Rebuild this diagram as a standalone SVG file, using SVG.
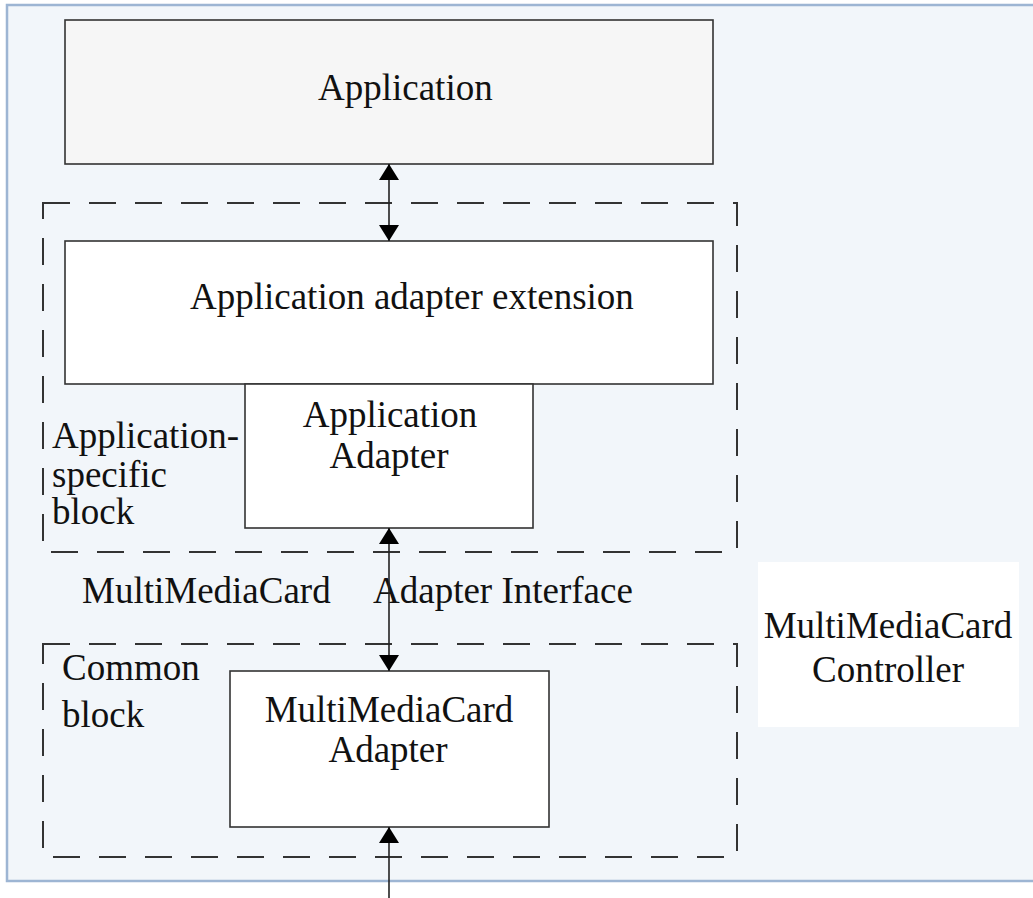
<svg xmlns="http://www.w3.org/2000/svg" width="1033" height="898" viewBox="0 0 1033 898">
<defs>
<style>
.t{font-family:"Liberation Serif","Times New Roman",serif;font-size:37px;fill:#111;}
.c{text-anchor:middle;}
.box{fill:#fff;stroke:#333;stroke-width:1.6;}
.dash{fill:none;stroke:#333;stroke-width:2;stroke-dasharray:27 19;}
.ln{stroke:#222;stroke-width:1.6;fill:none;}
</style>
<marker id="ah" viewBox="0 0 16 20" refX="16" refY="10" markerWidth="16" markerHeight="20" markerUnits="userSpaceOnUse" orient="auto-start-reverse">
<path d="M0,0 L16,10 L0,20 Z" fill="#000"/>
</marker>
</defs>
<rect width="1033" height="898" fill="#fff"/>
<g id="controller">
<rect x="7" y="5" width="1040" height="876" fill="#f2f6fa" stroke="#9db5d3" stroke-width="2.5"/>
<rect x="758" y="562" width="261" height="165" fill="#fff"/>
<text class="t c" x="888" y="638">MultiMediaCard</text>
<text class="t c" x="888" y="682">Controller</text>
</g>
<g id="app-specific-block">
<rect class="dash" x="43" y="203" width="694" height="349"/>
<text class="t" x="52" y="448">Application-</text>
<text class="t" x="52" y="487">specific</text>
<text class="t" x="52" y="524">block</text>
</g>
<g id="common-block">
<rect class="dash" x="43" y="644" width="694" height="213"/>
<text class="t" x="62" y="680">Common</text>
<text class="t" x="62" y="727">block</text>
</g>
<g id="application">
<rect class="box" x="65" y="20" width="648" height="144" fill="#f6f6f6" style="fill:#f6f6f6"/>
<text class="t" x="318" y="100">Application</text>
</g>
<g id="app-adapter-extension">
<rect class="box" x="65" y="241" width="648" height="143"/>
<text class="t" x="190" y="309">Application adapter extension</text>
</g>
<g id="app-adapter">
<rect class="box" x="245" y="384" width="288" height="144"/>
<text class="t c" x="390" y="427">Application</text>
<text class="t c" x="389" y="468">Adapter</text>
</g>
<g id="mmc-adapter">
<rect class="box" x="230" y="671" width="319" height="156"/>
<text class="t c" x="389" y="722">MultiMediaCard</text>
<text class="t c" x="388" y="762">Adapter</text>
</g>
<g id="interface-label">
<text class="t" x="82" y="603">MultiMediaCard</text>
<text class="t" x="373" y="603">Adapter Interface</text>
</g>
<g id="connectors">
<line class="ln" x1="389" y1="164" x2="389" y2="241" marker-start="url(#ah)" marker-end="url(#ah)"/>
<line class="ln" x1="389" y1="528" x2="389" y2="671" marker-start="url(#ah)" marker-end="url(#ah)"/>
<line class="ln" x1="389" y1="898" x2="389" y2="827" marker-end="url(#ah)"/>
</g>
</svg>
